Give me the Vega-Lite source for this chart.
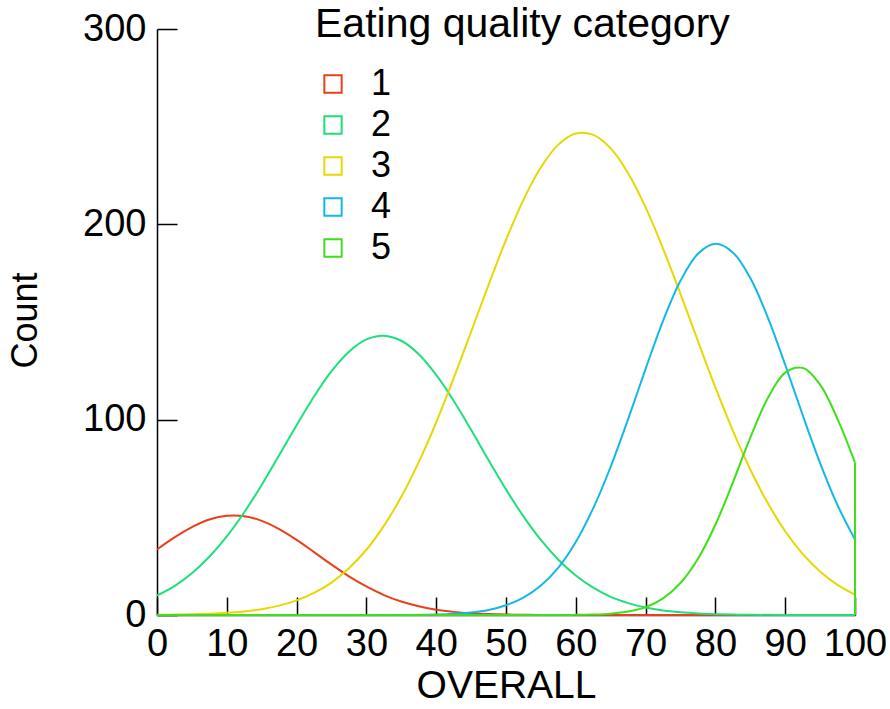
{
  "$schema": "https://vega.github.io/schema/vega-lite/v6.json",
  "width": 698,
  "height": 586,
  "autosize": {"type": "none"},
  "padding": {"left": 157, "top": 29, "right": 35, "bottom": 94},
  "background": "white",
  "config": {
    "view": {"stroke": null},
    "font": "Liberation Sans",
    "axis": {"grid": false, "domainColor": "black", "tickColor": "black", "domainWidth": 1.5, "tickWidth": 1.5, "labelColor": "black", "titleColor": "black", "labelFont": "Liberation Sans", "titleFont": "Liberation Sans", "titleFontWeight": "normal"},
    "legend": {"labelFont": "Liberation Sans", "titleFont": "Liberation Sans"}
  },
  "datasets": {
    "curves": [
    {"c":"1","i":0,"x":0,"y":33.5},{"c":"1","i":1,"x":2.5,"y":39.7},{"c":"1","i":2,"x":5,"y":45.0},{"c":"1","i":3,"x":7.5,"y":48.9},{"c":"1","i":4,"x":10,"y":50.8},{"c":"1","i":5,"x":12.5,"y":50.6},{"c":"1","i":6,"x":15,"y":48.2},{"c":"1","i":7,"x":17.5,"y":44.0},{"c":"1","i":8,"x":20,"y":38.5},{"c":"1","i":9,"x":22.5,"y":32.2},{"c":"1","i":10,"x":25,"y":25.8},{"c":"1","i":11,"x":27.5,"y":19.8},{"c":"1","i":12,"x":30,"y":14.6},{"c":"1","i":13,"x":32.5,"y":10.2},{"c":"1","i":14,"x":35,"y":6.9},{"c":"1","i":15,"x":37.5,"y":4.5},{"c":"1","i":16,"x":40,"y":2.7},{"c":"1","i":17,"x":42.5,"y":1.6},{"c":"1","i":18,"x":45,"y":0.9},{"c":"1","i":19,"x":47.5,"y":0.5},{"c":"1","i":20,"x":50,"y":0.26},{"c":"1","i":21,"x":52.5,"y":0.1},{"c":"1","i":22,"x":55,"y":0.05},{"c":"1","i":23,"x":65,"y":0},{"c":"1","i":24,"x":100,"y":0},
    {"c":"2","i":0,"x":0,"y":10.0},{"c":"2","i":1,"x":2.5,"y":14.8},{"c":"2","i":2,"x":5,"y":21.4},{"c":"2","i":3,"x":7.5,"y":29.8},{"c":"2","i":4,"x":10,"y":40.2},{"c":"2","i":5,"x":12.5,"y":52.6},{"c":"2","i":6,"x":15,"y":66.6},{"c":"2","i":7,"x":17.5,"y":81.8},{"c":"2","i":8,"x":20,"y":97.2},{"c":"2","i":9,"x":22.5,"y":111.9},{"c":"2","i":10,"x":25,"y":124.8},{"c":"2","i":11,"x":27.5,"y":134.8},{"c":"2","i":12,"x":30,"y":141.1},{"c":"2","i":13,"x":32.5,"y":143.0},{"c":"2","i":14,"x":35,"y":140.4},{"c":"2","i":15,"x":37.5,"y":133.5},{"c":"2","i":16,"x":40,"y":122.9},{"c":"2","i":17,"x":42.5,"y":109.7},{"c":"2","i":18,"x":45,"y":94.8},{"c":"2","i":19,"x":47.5,"y":79.3},{"c":"2","i":20,"x":50,"y":64.3},{"c":"2","i":21,"x":52.5,"y":50.5},{"c":"2","i":22,"x":55,"y":38.4},{"c":"2","i":23,"x":57.5,"y":28.3},{"c":"2","i":24,"x":60,"y":20.2},{"c":"2","i":25,"x":62.5,"y":14.0},{"c":"2","i":26,"x":65,"y":9.3},{"c":"2","i":27,"x":67.5,"y":6.1},{"c":"2","i":28,"x":70,"y":3.8},{"c":"2","i":29,"x":72.5,"y":2.3},{"c":"2","i":30,"x":75,"y":1.4},{"c":"2","i":31,"x":77.5,"y":0.8},{"c":"2","i":32,"x":80,"y":0.43},{"c":"2","i":33,"x":82.5,"y":0.2},{"c":"2","i":34,"x":85,"y":0.1},{"c":"2","i":35,"x":90,"y":0},{"c":"2","i":36,"x":100,"y":0},
    {"c":"3","i":0,"x":0,"y":0.1},{"c":"3","i":1,"x":2.5,"y":0.2},{"c":"3","i":2,"x":5,"y":0.36},{"c":"3","i":3,"x":7.5,"y":0.64},{"c":"3","i":4,"x":10,"y":1.1},{"c":"3","i":5,"x":12.5,"y":1.85},{"c":"3","i":6,"x":15,"y":3.0},{"c":"3","i":7,"x":17.5,"y":4.8},{"c":"3","i":8,"x":20,"y":7.5},{"c":"3","i":9,"x":22.5,"y":11.3},{"c":"3","i":10,"x":25,"y":16.6},{"c":"3","i":11,"x":27.5,"y":23.9},{"c":"3","i":12,"x":30,"y":33.4},{"c":"3","i":13,"x":32.5,"y":45.6},{"c":"3","i":14,"x":35,"y":60.5},{"c":"3","i":15,"x":37.5,"y":78.3},{"c":"3","i":16,"x":40,"y":98.6},{"c":"3","i":17,"x":42.5,"y":121.2},{"c":"3","i":18,"x":45,"y":145.0},{"c":"3","i":19,"x":47.5,"y":169.0},{"c":"3","i":20,"x":50,"y":192.0},{"c":"3","i":21,"x":52.5,"y":212.5},{"c":"3","i":22,"x":55,"y":229.2},{"c":"3","i":23,"x":57.5,"y":240.8},{"c":"3","i":24,"x":60,"y":246.5},{"c":"3","i":25,"x":62.5,"y":245.8},{"c":"3","i":26,"x":65,"y":238.9},{"c":"3","i":27,"x":67.5,"y":226.2},{"c":"3","i":28,"x":70,"y":208.7},{"c":"3","i":29,"x":72.5,"y":187.6},{"c":"3","i":30,"x":75,"y":164.3},{"c":"3","i":31,"x":77.5,"y":140.2},{"c":"3","i":32,"x":80,"y":116.5},{"c":"3","i":33,"x":82.5,"y":94.4},{"c":"3","i":34,"x":85,"y":74.5},{"c":"3","i":35,"x":87.5,"y":57.3},{"c":"3","i":36,"x":90,"y":42.9},{"c":"3","i":37,"x":92.5,"y":31.3},{"c":"3","i":38,"x":95,"y":22.3},{"c":"3","i":39,"x":97.5,"y":15.4},{"c":"3","i":40,"x":100,"y":10.4},
    {"c":"4","i":0,"x":0,"y":0},{"c":"4","i":1,"x":30,"y":0},{"c":"4","i":2,"x":40,"y":0.3},{"c":"4","i":3,"x":42.5,"y":0.64},{"c":"4","i":4,"x":45,"y":1.3},{"c":"4","i":5,"x":47.5,"y":2.6},{"c":"4","i":6,"x":50,"y":5.0},{"c":"4","i":7,"x":52.5,"y":8.9},{"c":"4","i":8,"x":55,"y":15.1},{"c":"4","i":9,"x":57.5,"y":24.3},{"c":"4","i":10,"x":60,"y":37.4},{"c":"4","i":11,"x":62.5,"y":54.7},{"c":"4","i":12,"x":65,"y":75.9},{"c":"4","i":13,"x":67.5,"y":100.3},{"c":"4","i":14,"x":70,"y":126.0},{"c":"4","i":15,"x":72.5,"y":150.6},{"c":"4","i":16,"x":75,"y":171.1},{"c":"4","i":17,"x":77.5,"y":184.9},{"c":"4","i":18,"x":80,"y":190.0},{"c":"4","i":19,"x":82.5,"y":185.6},{"c":"4","i":20,"x":85,"y":172.5},{"c":"4","i":21,"x":87.5,"y":152.4},{"c":"4","i":22,"x":90,"y":128.1},{"c":"4","i":23,"x":92.5,"y":102.4},{"c":"4","i":24,"x":95,"y":77.8},{"c":"4","i":25,"x":97.5,"y":56.2},{"c":"4","i":26,"x":100,"y":38.6},
    {"c":"5","i":0,"x":0,"y":0},{"c":"5","i":1,"x":55,"y":0},{"c":"5","i":2,"x":60,"y":0.08},{"c":"5","i":3,"x":62.5,"y":0.25},{"c":"5","i":4,"x":65,"y":0.7},{"c":"5","i":5,"x":67.5,"y":1.75},{"c":"5","i":6,"x":70,"y":4.0},{"c":"5","i":7,"x":72.5,"y":8.5},{"c":"5","i":8,"x":75,"y":16.4},{"c":"5","i":9,"x":77.5,"y":28.8},{"c":"5","i":10,"x":80,"y":46.2},{"c":"5","i":11,"x":82.5,"y":67.8},{"c":"5","i":12,"x":85,"y":90.8},{"c":"5","i":13,"x":87.5,"y":111.0},{"c":"5","i":14,"x":90,"y":124.1},{"c":"5","i":15,"x":92.5,"y":126.5},{"c":"5","i":16,"x":95,"y":117.9},{"c":"5","i":17,"x":97.5,"y":100.3},{"c":"5","i":18,"x":100,"y":78.0}
    ],
    "drops": [
      {"c":"3","x":100,"y":10.4,"y0":0},
      {"c":"4","x":100,"y":38.6,"y0":0},
      {"c":"5","x":100,"y":78.0,"y0":0}
    ]
  },
  "encoding": {
    "x": {"field": "x", "type": "quantitative",
      "scale": {"domain": [0, 100], "nice": false, "zero": false},
      "axis": {"title": "OVERALL", "values": [0,10,20,30,40,50,60,70,80,90,100], "tickSize": -18, "labelFontSize": 38, "labelBaseline": "alphabetic", "labelPadding": 58, "titleFontSize": 39, "titleX": 349, "titleY": 82, "titleBaseline": "alphabetic", "titleAlign": "center", "labelFlush": false}},
    "y": {"field": "y", "type": "quantitative",
      "scale": {"domain": [0, 300], "nice": false},
      "axis": {"title": "Count", "values": [0,100,200,300], "tickSize": -20, "labelFontSize": 38, "labelPadding": 31, "titleFontSize": 36, "titleX": -132, "titleY": 291, "titleAngle": -90, "titleBaseline": "middle", "titleAlign": "center", "labelFlush": false}},
    "color": {"field": "c", "type": "nominal",
      "scale": {"domain": ["1","2","3","4","5"], "range": ["#e8401c","#1ee07a","#e6d800","#14b8e6","#3ee01c"]},
      "legend": {"title": "Eating quality category", "orient": "none", "legendX": 158, "legendY": -24, "titleFontSize": 41, "titleFontWeight": "normal", "titleColor": "black", "titlePadding": 20, "titleLimit": 800, "labelFontSize": 36, "labelColor": "black", "labelOffset": 20, "symbolType": "square", "symbolSize": 300, "symbolStrokeWidth": 2, "rowPadding": 5, "padding": 0}}
  },
  "layer": [
    {
      "data": {"name": "curves"},
      "mark": {"type": "line", "strokeWidth": 2, "clip": false, "interpolate": "catmull-rom"},
      "encoding": {"order": {"field": "i", "type": "quantitative"}}
    },
    {
      "data": {"name": "drops"},
      "mark": {"type": "rule", "strokeWidth": 2},
      "encoding": {"y2": {"field": "y0"}}
    }
  ]
}
